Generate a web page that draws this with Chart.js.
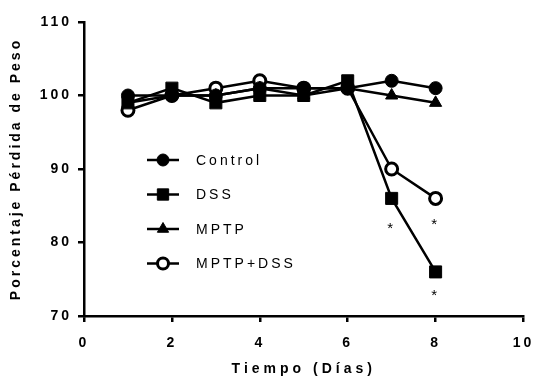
<!DOCTYPE html>
<html>
<head>
<meta charset="utf-8">
<script src="https://cdn.jsdelivr.net/npm/chart.js@4"></script>
<style>
  html, body { margin: 0; padding: 0; background: #fff; }
  #wrap { width: 533px; height: 382px; }
</style>
</head>
<body>
<div id="wrap"><canvas id="pesoChart" width="533" height="382"></canvas></div>
<script>
// Days and weight percentage per group
const days = [1, 2, 3, 4, 5, 6, 7, 8];
const control = [100, 100, 100, 101, 101, 101, 102, 101];
const dss = [99, 101, 99, 100, 100, 102, 86, 76];
const mptp = [99, 100, 100, 101, 100, 101, 100, 99];
const mptpDss = [98, 100, 101, 102, 101, 101, 90, 86];

// significance marks (day, value where the * sits)
const starDays = [7, 8, 8];
const starValues = [82.2, 82.8, 73.1];

const FONT = "'Liberation Sans', Arial, sans-serif";

function series(label, values, style, fill, radius) {
  return {
    label: label,
    data: days.map((d, i) => ({ x: d, y: values[i] })),
    borderColor: "#000",
    borderWidth: 2.5,
    pointStyle: style,
    pointRadius: radius,
    pointBackgroundColor: fill,
    pointBorderColor: "#000",
    pointBorderWidth: fill === "#fff" ? 3 : 1,
    tension: 0,
  };
}

// legend drawn inside the plot, as in the figure
const insideLegend = {
  id: "insideLegend",
  afterDatasetsDraw(chart) {
    const ctx = chart.ctx;
    ctx.save();
    ctx.font = "14px " + FONT;
    ctx.letterSpacing = "3px";
    ctx.textBaseline = "middle";
    chart.data.datasets.forEach((ds, i) => {
      const y = 160 + i * 34.5;
      ctx.strokeStyle = "#000";
      ctx.lineWidth = 2.5;
      ctx.beginPath();
      ctx.moveTo(147, y);
      ctx.lineTo(179, y);
      ctx.stroke();
      ctx.fillStyle = ds.pointBackgroundColor;
      ctx.lineWidth = ds.pointBorderWidth;
      Chart.helpers.drawPoint(ctx, {
        pointStyle: ds.pointStyle,
        radius: ds.pointRadius - 0.5,
        borderWidth: ds.pointBorderWidth,
      }, 163, y);
      ctx.fillStyle = "#000";
      ctx.fillText(ds.label, 196, y + 1);
    });
    ctx.restore();
  },
};

// asterisks under the significant points
const stars = {
  id: "stars",
  afterDatasetsDraw(chart) {
    const ctx = chart.ctx;
    const xs = chart.scales.x, ys = chart.scales.y;
    ctx.save();
    ctx.font = "15px " + FONT;
    ctx.fillStyle = "#000";
    ctx.textAlign = "center";
    ctx.textBaseline = "middle";
    starDays.forEach((d, i) => {
      ctx.fillText("*", xs.getPixelForValue(d), ys.getPixelForValue(starValues[i]) + 3);
    });
    ctx.restore();
  },
};

// letter spacing like the original figure
const spacing = {
  id: "spacing",
  beforeDraw(chart) { chart.ctx.letterSpacing = "3px"; },
  afterDraw(chart) { chart.ctx.letterSpacing = "0px"; },
};

const tickFont = { family: FONT, size: 14, weight: "bold" };

const chart = new Chart(document.getElementById("pesoChart"), {
  type: "line",
  data: {
    datasets: [
      series("Control", control, "circle", "#000", 6.5),
      series("DSS", dss, "rect", "#000", 8.5),
      series("MPTP", mptp, "triangle", "#000", 7),
      series("MPTP+DSS", mptpDss, "circle", "#fff", 6),
    ],
  },
  options: {
    responsive: false,
    animation: false,
    layout: { padding: { top: 22, right: 9, left: 0, bottom: 0 } },
    plugins: { legend: { display: false }, tooltip: { enabled: false } },
    scales: {
      x: {
        type: "linear",
        min: 0,
        max: 10,
        border: { color: "#000", width: 2.5 },
        grid: { drawOnChartArea: false, drawTicks: true, tickLength: 6, color: "#000", lineWidth: 2.5 },
        ticks: { stepSize: 2, color: "#000", padding: 13, font: tickFont },
        title: { display: true, text: "Tiempo (Días)", color: "#000", padding: { top: 4, bottom: 4 }, font: tickFont },
        afterFit(scale) {
          scale.height = 66;
          scale.paddingLeft = 0;
          scale.paddingRight = 0;
          if (!scale._wideTitle) {
            // the x title is spaced a little wider than the rest
            const drawTitle = scale.drawTitle;
            scale.drawTitle = function (...args) {
              const prev = this.ctx.letterSpacing;
              this.ctx.letterSpacing = "4px";
              drawTitle.apply(this, args);
              this.ctx.letterSpacing = prev;
            };
            scale._wideTitle = true;
          }
        },
      },
      y: {
        min: 70,
        max: 110,
        border: { color: "#000", width: 2.5 },
        grid: { drawOnChartArea: false, drawTicks: true, tickLength: 6, color: "#000", lineWidth: 2.5 },
        ticks: { stepSize: 10, color: "#000", padding: 6, font: tickFont },
        title: { display: true, text: "Porcentaje Pérdida de Peso", color: "#000", padding: { top: 8, bottom: 4 }, font: { family: FONT, size: 14, weight: "bold" } },
        afterFit(scale) {
          scale.width = 84;
          scale.paddingTop = 0;
          scale.paddingBottom = 0;
        },
      },
    },
  },
  plugins: [spacing, insideLegend, stars],
});
</script>
</body>
</html>
